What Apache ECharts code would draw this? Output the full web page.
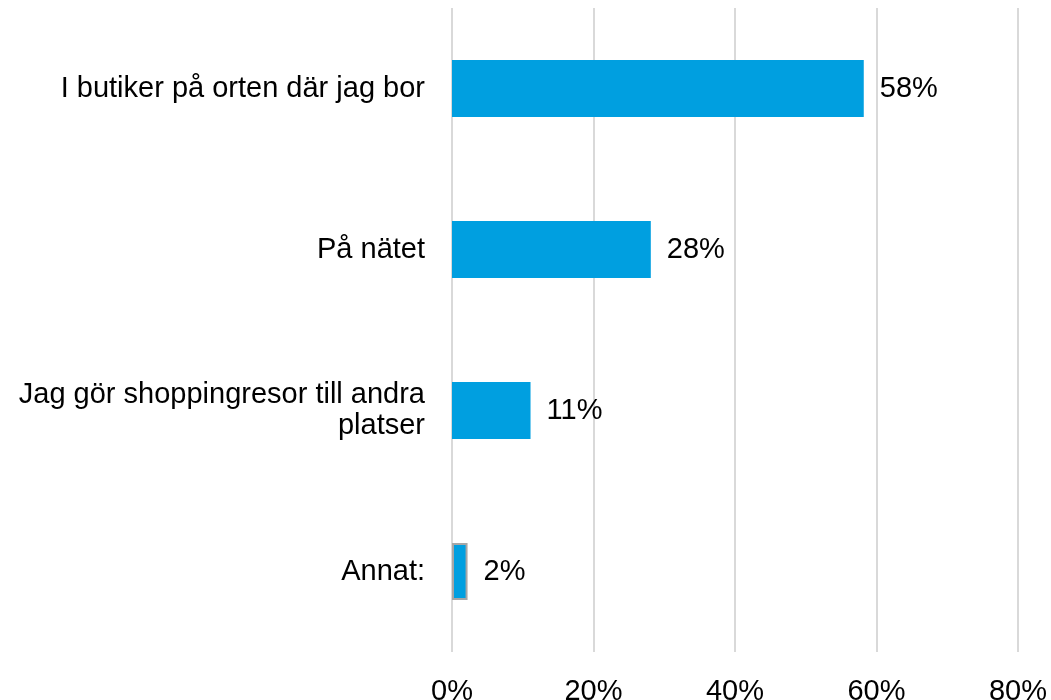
<!DOCTYPE html>
<html>
<head>
<meta charset="utf-8">
<script src="https://cdn.jsdelivr.net/npm/echarts@6/dist/echarts.min.js"></script>
<style>
    html, body { margin: 0; padding: 0; background: #fff; }
    #chart { width: 1051px; height: 700px; }
</style>
</head>
<body>
<div id="chart"></div>
<script>
var kategorier = ['I butiker på orten där jag bor', 'På nätet', 'Jag gör shoppingresor till andra\nplatser', 'Annat:'];
var andelar = [58.2, 28.1, 11.1, 2.2];
var etiketter = ['58%', '28%', '11%', '2%'];
var axelTicks = [0, 20, 40, 60, 80];

var chartDom = document.getElementById('chart');
var chart = echarts.init(chartDom);

var data = andelar.map(function (v, i) {
    var item = { value: v, label: { formatter: etiketter[i] } };
    if (i === andelar.length - 1) {
        item.itemStyle = { borderColor: '#a6a6a6', borderWidth: 2 };
    }
    return item;
});

var option = {
    animation: false,
    grid: {
        left: 452,
        right: 33,
        top: 8,
        bottom: 48,
        containLabel: false,
        outerBoundsMode: 'none'
    },
    xAxis: {
        type: 'value',
        min: axelTicks[0],
        max: axelTicks[axelTicks.length - 1],
        interval: 20,
        axisLine: { show: false },
        axisTick: { show: false },
        axisLabel: {
            formatter: '{value}%',
            fontFamily: 'Liberation Sans, Arial',
            fontSize: 29,
            color: '#000',
            margin: 25
        },
        splitLine: {
            show: true,
            lineStyle: { color: '#d9d9d9', width: 2 }
        }
    },
    yAxis: {
        type: 'category',
        inverse: true,
        data: kategorier,
        axisLine: { show: false },
        axisTick: { show: false },
        axisLabel: {
            fontFamily: 'Liberation Sans, Arial',
            fontSize: 29,
            color: '#000',
            margin: 27,
            align: 'right',
            lineHeight: 31
        }
    },
    series: [
        {
            type: 'bar',
            data: data,
            barWidth: 57,
            itemStyle: { color: '#009fe0' },
            label: {
                show: true,
                position: 'right',
                distance: 16,
                fontFamily: 'Liberation Sans, Arial',
                fontSize: 29,
                color: '#000'
            }
        }
    ]
};
chart.setOption(option);

window.addEventListener('resize', function () {
    chart.resize();
});
</script>
</body>
</html>
